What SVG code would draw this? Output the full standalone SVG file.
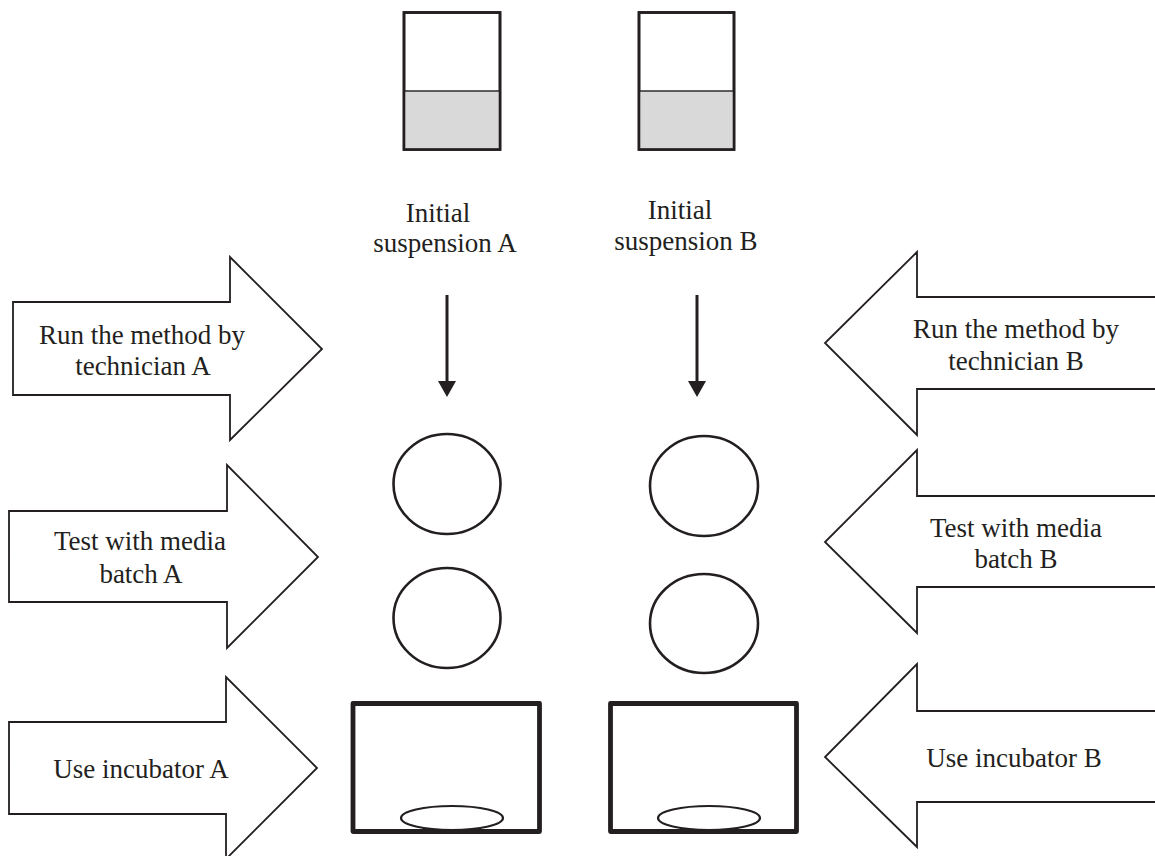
<svg xmlns="http://www.w3.org/2000/svg" width="1155" height="856" viewBox="0 0 1155 856">
  <defs>
    <style>
      .lbl { font-family: "Liberation Serif", "DejaVu Serif", serif; font-size: 27px; fill: #231f20; text-anchor: middle; }
      .big-arrow { fill: #ffffff; stroke: #231f20; stroke-width: 1.8; stroke-linejoin: miter; }
      .tube { fill: #ffffff; stroke: #231f20; stroke-width: 2.6; }
      .liquid { fill: #d9d9d9; stroke: #231f20; stroke-width: 1.4; }
      .dish { fill: #ffffff; stroke: #231f20; stroke-width: 2.6; }
      .incubator { fill: #ffffff; stroke: #231f20; stroke-width: 4.8; stroke-linejoin: round; }
      .plate { fill: none; stroke: #231f20; stroke-width: 2.2; }
      .flow { stroke: #231f20; stroke-width: 3; fill: none; }
    </style>
    <marker id="down-head" markerWidth="6" markerHeight="6" refX="0" refY="3" orient="auto" markerUnits="strokeWidth">
      <path d="M0,0 L5.3,3 L0,6 Z" fill="#231f20"/>
    </marker>
  </defs>
  <rect width="1155" height="856" fill="#ffffff"/>

  <!-- Suspension tubes -->
  <g id="tube-a">
    <rect class="tube" x="404" y="12.5" width="96" height="137"/>
    <rect class="liquid" x="404" y="91" width="96" height="58.5"/>
    <rect x="404" y="12.5" width="96" height="137" fill="none" stroke="#231f20" stroke-width="2.6"/>
    <text class="lbl" x="438" y="222">Initial</text>
    <text class="lbl" x="445" y="252">suspension A</text>
  </g>
  <g id="tube-b">
    <rect class="tube" x="639" y="12.5" width="95" height="137"/>
    <rect class="liquid" x="639" y="91" width="95" height="58.5"/>
    <rect x="639" y="12.5" width="95" height="137" fill="none" stroke="#231f20" stroke-width="2.6"/>
    <text class="lbl" x="680" y="219">Initial</text>
    <text class="lbl" x="686" y="250">suspension B</text>
  </g>

  <!-- Connectors from suspensions down to the dishes -->
  <g id="connectors">
    <line class="flow" x1="447" y1="295" x2="447" y2="381" marker-end="url(#down-head)"/>
    <line class="flow" x1="697" y1="295" x2="697" y2="381" marker-end="url(#down-head)"/>
  </g>

  <!-- Culture dishes -->
  <g id="dish-a1"><ellipse class="dish" cx="447" cy="484" rx="53.5" ry="50"/></g>
  <g id="dish-a2"><ellipse class="dish" cx="447" cy="618" rx="53.5" ry="50"/></g>
  <g id="dish-b1"><ellipse class="dish" cx="704" cy="486" rx="54" ry="50"/></g>
  <g id="dish-b2"><ellipse class="dish" cx="704" cy="623.5" rx="54" ry="49.5"/></g>

  <!-- Incubators -->
  <g id="incubator-a">
    <rect class="incubator" x="353" y="703.5" width="186.5" height="128"/>
    <ellipse class="plate" cx="452" cy="818" rx="51" ry="12"/>
  </g>
  <g id="incubator-b">
    <rect class="incubator" x="610.5" y="703.5" width="186" height="128"/>
    <ellipse class="plate" cx="709" cy="818" rx="51" ry="12"/>
  </g>

  <!-- Factors for laboratory A (pointing right) -->
  <g id="factor-technician-a">
    <path class="big-arrow" d="M13,302 L230,302 L230,257 L322,349 L230,440 L230,395 L13,395 Z"/>
    <text class="lbl" x="142" y="344">Run the method by</text>
    <text class="lbl" x="143" y="375">technician A</text>
  </g>
  <g id="factor-media-a">
    <path class="big-arrow" d="M9,511 L227,511 L227,465 L318,557 L227,648 L227,602 L9,602 Z"/>
    <text class="lbl" x="140" y="550">Test with media</text>
    <text class="lbl" x="141" y="583">batch A</text>
  </g>
  <g id="factor-incubator-a">
    <path class="big-arrow" d="M9,722 L226,722 L226,677 L317,768 L226,859 L226,814 L9,814 Z"/>
    <text class="lbl" x="141" y="778">Use incubator A</text>
  </g>

  <!-- Factors for laboratory B (pointing left) -->
  <g id="factor-technician-b">
    <path class="big-arrow" d="M1160,297 L917,297 L917,252 L825,343 L917,435 L917,389 L1160,389"/>
    <text class="lbl" x="1016" y="338">Run the method by</text>
    <text class="lbl" x="1016" y="370">technician B</text>
  </g>
  <g id="factor-media-b">
    <path class="big-arrow" d="M1160,496 L917,496 L917,450 L825,542 L917,633 L917,587 L1160,587"/>
    <text class="lbl" x="1016" y="537">Test with media</text>
    <text class="lbl" x="1016" y="568">batch B</text>
  </g>
  <g id="factor-incubator-b">
    <path class="big-arrow" d="M1160,711 L917,711 L917,664 L825,757 L917,847 L917,802 L1160,802"/>
    <text class="lbl" x="1014" y="767">Use incubator B</text>
  </g>
</svg>
